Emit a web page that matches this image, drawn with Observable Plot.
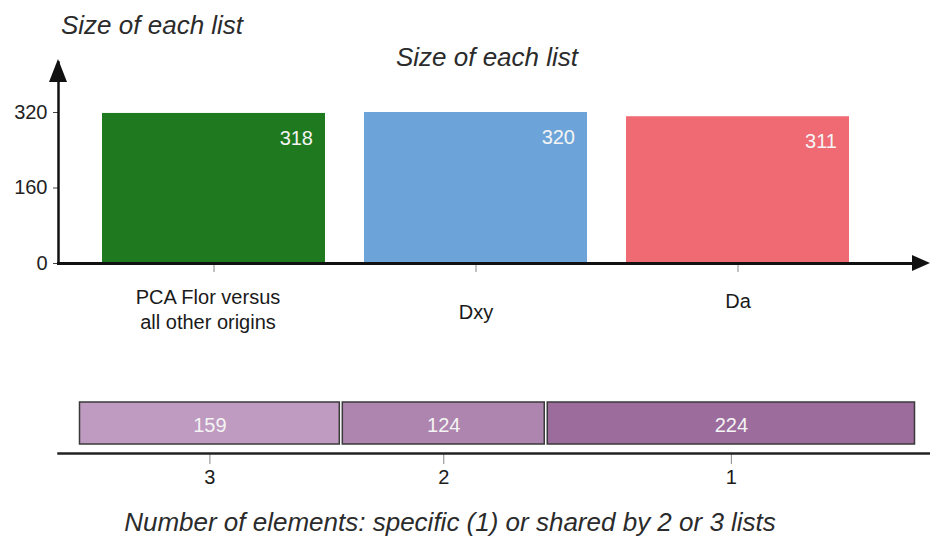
<!DOCTYPE html>
<html>
<head>
<meta charset="utf-8">
<script src="https://cdn.jsdelivr.net/npm/d3@7"></script>
<script src="https://cdn.jsdelivr.net/npm/@observablehq/plot@0.6"></script>
<style>
  body { margin: 0; background: #fff; }
  #wrap { position: relative; width: 930px; height: 539px; overflow: hidden;
          font-family: "Liberation Sans", Arial, sans-serif; }
  .t { position: absolute; font-style: italic; font-size: 26px; color: #2b2b2b;
       white-space: nowrap; line-height: 1; }
  .plot { position: absolute; left: 0; }
</style>
</head>
<body>
<div id="wrap">
  <div id="top" class="plot" style="top:0"></div>
  <div id="bottom" class="plot" style="top:340px"></div>
  <div class="t" style="left:61px;top:12px">Size of each list</div>
  <div class="t" style="left:0;width:974px;text-align:center;top:44px">Size of each list</div>
  <div class="t" style="left:0;width:900px;text-align:center;top:509px">Number of elements: specific (1) or shared by 2 or 3 lists</div>
</div>
<script>
// ---- data ----
const lists = ["PCA Flor versus\nall other origins", "Dxy", "Da"];
const listSizes = [318, 320, 311];
const yTicks = [0, 160, 320];
const sharedGroups = ["3", "2", "1"];
const sharedCounts = [159, 124, 224];

// ---- styles ----
const listColors = ["#1f7a1f", "#6ca4da", "#f06a73"];
const sharedColors = ["#bf9bc1", "#ad85ae", "#9c6c9c"];
const font = '"Liberation Sans", Arial, sans-serif';

const topData = lists.map((name, i) => ({name, value: listSizes[i]}));
const sharedData = sharedGroups.map((group, i) => ({group, count: sharedCounts[i]}));
const total = d3.sum(sharedCounts);
const cum = d3.cumsum(sharedCounts);
const mids = sharedCounts.map((c, i) => cum[i] - c / 2);

// arrowheads at the end of the axes
function arrows(index, scales, values, dim) {
  const g = d3.create("svg:g").attr("fill", "#111");
  const x0 = dim.marginLeft, y0 = dim.height - dim.marginBottom;
  const yTop = dim.marginTop, xEnd = dim.width;
  g.append("path").attr("d", `M${x0},${yTop - 3}L${x0 - 9},${yTop + 20}L${x0 + 9},${yTop + 20}Z`);
  g.append("path").attr("d", `M${xEnd},${y0}L${xEnd - 18},${y0 - 8}L${xEnd - 18},${y0 + 8}Z`);
  return g.node();
}

const labelOpts = {frameAnchor: "bottom", lineAnchor: "middle", fontSize: 20, fill: "#1a1a1a", lineHeight: 1.25};

const topPlot = Plot.plot({
  width: 930, height: 340,
  marginTop: 62, marginLeft: 58, marginRight: 15, marginBottom: 77,
  style: {fontFamily: font, fontSize: "20px", background: "transparent", color: "#222", overflow: "visible"},
  x: {type: "band", domain: lists, range: [58, 893], paddingInner: 0.15, paddingOuter: 0.165, axis: null},
  y: {domain: [0, 320], range: [263, 112], axis: null},
  color: {domain: lists, range: listColors},
  marks: [
    Plot.barY(topData, {x: "name", y: "value", fill: "name"}),
    Plot.axisY({ticks: yTicks, tickSize: 5, tickPadding: 6, fontSize: 20, stroke: "#444", label: null}),
    Plot.axisX({tickSize: 9, tickFormat: () => "", stroke: "#888", label: null}),
    Plot.frame({anchor: "left", stroke: "#111", strokeWidth: 2.5}),
    Plot.frame({anchor: "bottom", stroke: "#111", strokeWidth: 3}),
    arrows,
    Plot.text(topData, {x: "name", y: "value", text: d => String(d.value), textAnchor: "end",
      dx: 99, dy: 25, fill: "#f4f4f4", fontSize: 20}),
    Plot.text(topData.filter((d, i) => i === 0), {...labelOpts, x: "name", text: "name", dx: -6, dy: 45}),
    Plot.text(topData.filter((d, i) => i === 1), {...labelOpts, x: "name", text: "name", dy: 47}),
    Plot.text(topData.filter((d, i) => i === 2), {...labelOpts, x: "name", text: "name", dy: 36})
  ]
});
document.getElementById("top").append(topPlot);

const bottomPlot = Plot.plot({
  width: 930, height: 199,
  marginTop: 62, marginBottom: 86, marginLeft: 58, marginRight: 0,
  style: {fontFamily: font, fontSize: "20px", background: "transparent", color: "#222", overflow: "visible"},
  x: {domain: [0, total], range: [78, 916], axis: null},
  color: {domain: sharedGroups, range: sharedColors},
  marks: [
    Plot.barX(sharedData, Plot.stackX({x: "count", fill: "group", stroke: "#3a3a3a", strokeWidth: 1.5,
      insetLeft: 1.5, insetRight: 1.5, insetBottom: 9})),
    Plot.text(sharedData, Plot.stackX({x: "count", text: d => String(d.count), frameAnchor: "top",
      dy: 15, fill: "#f4f4f4", fontSize: 20})),
    Plot.axisX({ticks: mids, tickSize: 11, tickFormat: () => "", stroke: "#888", label: null}),
    Plot.frame({anchor: "bottom", stroke: "#222", strokeWidth: 2.5}),
    Plot.text(sharedData, Plot.stackX({x: "count", text: "group", frameAnchor: "bottom",
      dy: 30, fill: "#1a1a1a", fontSize: 20}))
  ]
});
document.getElementById("bottom").append(bottomPlot);
</script>
</body>
</html>
